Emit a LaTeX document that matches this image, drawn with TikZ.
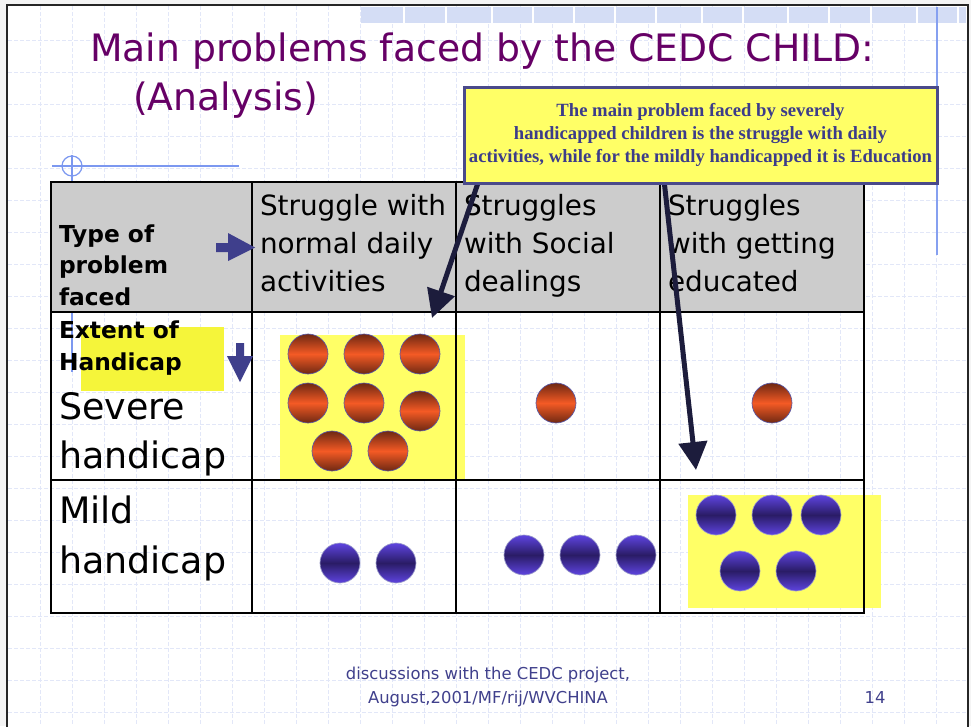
\documentclass[tikz,border=0pt]{standalone}
\usepackage{fontspec}
\setmainfont{DejaVu Sans}
\newfontfamily\serifbold{Liberation Serif}
\usetikzlibrary{arrows.meta}
\definecolor{titlec}{HTML}{660066}
\definecolor{outerbg}{HTML}{F4F4F4}
\definecolor{gridc}{HTML}{E2E7F8}
\definecolor{bandc}{HTML}{D4DDF5}
\definecolor{bluelinec}{HTML}{86A0F0}
\definecolor{crossc}{HTML}{7C98F0}
\definecolor{headgray}{HTML}{CCCCCC}
\definecolor{hlyellow}{HTML}{F5F53A}
\definecolor{ballyellow}{HTML}{FFFF66}
\definecolor{navyarrow}{HTML}{3F3F8C}
\definecolor{darkarrow}{HTML}{1C1C3C}
\definecolor{calloutborder}{HTML}{4A4A8A}
\definecolor{callouttext}{HTML}{3C3C8A}
\definecolor{footc}{HTML}{40408C}
\definecolor{orangedark}{HTML}{6E2812}
\definecolor{orangemid}{HTML}{F45A25}
\definecolor{bluelight}{HTML}{5E44E0}
\definecolor{bluedark}{HTML}{2A1C66}
\definecolor{ballline}{HTML}{5A5AA8}
\begin{document}
\begin{tikzpicture}[x=0.75pt,y=-0.75pt,
  every node/.style={inner sep=0pt,outer sep=0pt},
  gridline/.style={draw=gridc,line width=0.6pt,dash pattern=on 3pt off 1.5pt},
  tableline/.style={draw=black,line width=1.1pt},
  orangeball/.style={top color=orangedark,bottom color=orangedark,middle color=orangemid,draw=ballline,line width=0.5pt},
  blueball/.style={top color=bluelight,bottom color=bluelight,middle color=bluedark,draw=ballline!60,line width=0.5pt},
  titletext/.style={anchor=base west,text=titlec,font=\fontsize{28.3}{34}\selectfont},
  headtext/.style={anchor=base west,font=\fontsize{20.9}{25}\selectfont},
  boldtext/.style={anchor=base west,font=\bfseries\fontsize{17.5}{21}\selectfont},
  bigtext/.style={anchor=base west,font=\fontsize{27.3}{33}\selectfont},
  foottext/.style={anchor=base,text=footc,font=\fontsize{12.3}{15}\selectfont},
  blockarrow/.style={fill=navyarrow},
  calloutarrow/.style={draw=darkarrow,line width=3.75pt,-{Triangle[length=21pt,width=21pt]}},
  callout/.style={draw=calloutborder,line width=2.25pt,fill=ballyellow,
    minimum width=354.75pt,minimum height=72pt,align=center,text=callouttext,
    font=\serifbold\bfseries\fontsize{14}{17.25}\selectfont}
]
\useasboundingbox (0,0) rectangle (971,726);
% slide background
\fill[outerbg] (0,0) rectangle (971,726);
\fill[white] (7,5) rectangle (968,740);
\begin{scope}
  \clip (8,6) rectangle (967,726);
  \foreach \k in {1,...,29} \draw[gridline] ({8+32*\k},6) -- ({8+32*\k},726);
  \foreach \k in {1,...,22} \draw[gridline] (8,{8+32*\k}) -- (967,{8+32*\k});
\end{scope}
\fill[bandc] (361,7) rectangle (966,23);
\foreach \xx in {404,446,492,533,574,615,656,702,743,788,829,871,917,958}
  \draw[white,line width=0.9pt] (\xx,7) -- (\xx,23);
\draw[bluelinec,line width=0.9pt] (937,7) -- (937,255);
\draw[black!85,line width=1.5pt] (7,740) -- (7,5) -- (968,5) -- (968,740);
% crosshair ornament
\draw[crossc,line width=0.9pt] (52,166) -- (239,166);
\draw[crossc,line width=0.9pt] (72,155) -- (72,372);
\draw[crossc,line width=0.9pt] (72,166) circle (10);
% title
\node[titletext] (title1) at (90,61) {Main problems faced by the CEDC CHILD:};
\node[titletext] (title2) at (133,110) {(Analysis)};
% table backgrounds
\fill[headgray] (51,182) rectangle (864,312);
\fill[hlyellow] (81,327) rectangle (224,391);
\fill[ballyellow] (280,335) rectangle (465,479);
\fill[ballyellow] (688,495) rectangle (881,608);
% table lines
\draw[tableline] (51,182) rectangle (864,613);
\draw[tableline] (51,312) -- (864,312);
\draw[tableline] (51,480) -- (864,480);
\foreach \xx in {252,456,660} \draw[tableline] (\xx,182) -- (\xx,613);
\draw[black,line width=1.6pt] (51,613) -- (864,613);
% orange balls
\foreach \p in {(308,354),(364,354),(420,354),(308,403),(364,403),(420,411),(332,451),(388,451),(556,403),(772,403)}
  \shadedraw[orangeball] \p circle (20);
% blue balls
\foreach \p in {(340,563),(396,563),(524,555),(580,555),(636,555),(716,515),(772,515),(821,515),(740,571),(796,571)}
  \shadedraw[blueball] \p circle (20);
% header texts
\node[boldtext] (h1a) at (59,242) {Type of};
\node[boldtext] (h1b) at (59,273) {problem};
\node[boldtext] (h1c) at (59,305) {faced};
\node[headtext] (h2a) at (260,215) {Struggle with};
\node[headtext] (h2b) at (260,253) {normal daily};
\node[headtext] (h2c) at (260,291) {activities};
\node[headtext] (h3a) at (464,215) {Struggles};
\node[headtext] (h3b) at (464,253) {with Social};
\node[headtext] (h3c) at (464,291) {dealings};
\node[headtext] (h4a) at (668,215) {Struggles};
\node[headtext] (h4b) at (668,253) {with getting};
\node[headtext] (h4c) at (668,291) {educated};
% row labels
\node[boldtext] (e1) at (59,338) {Extent of};
\node[boldtext] (e2) at (59,370) {Handicap};
\node[bigtext] (s1) at (59,419) {Severe};
\node[bigtext] (s2) at (59,468) {handicap};
\node[bigtext] (m1) at (59,523) {Mild};
\node[bigtext] (m2) at (59,573) {handicap};
% block arrows
\fill[blockarrow] (216,243) -- (228,243) -- (228,233) -- (255,247.5) -- (228,261) -- (228,252) -- (216,252) -- cycle;
\fill[blockarrow] (236,343) -- (244,343) -- (244,356) -- (253,356) -- (240,382) -- (227,356) -- (236,356) -- cycle;
% callout arrows
\coordinate (a1s) at (479,180);
\coordinate (a1e) at (432,318);
\coordinate (a2s) at (664,180);
\coordinate (a2e) at (696,470);
\draw[calloutarrow] (a1s) -- (a1e);
\draw[calloutarrow] (a2s) -- (a2e);
% callout
\node[callout] (callout) at (700.5,135) {The main problem faced by severely\\handicapped children is the struggle with daily\\activities, while for the mildly handicapped it is Education};
% footer
\node[foottext] (f1) at (488,679) {discussions with the CEDC project,};
\node[foottext] (f2) at (488,703) {August,2001/MF/rij/WVCHINA};
\node[foottext] (pg) at (875,703) {14};
\end{tikzpicture}
\end{document}
